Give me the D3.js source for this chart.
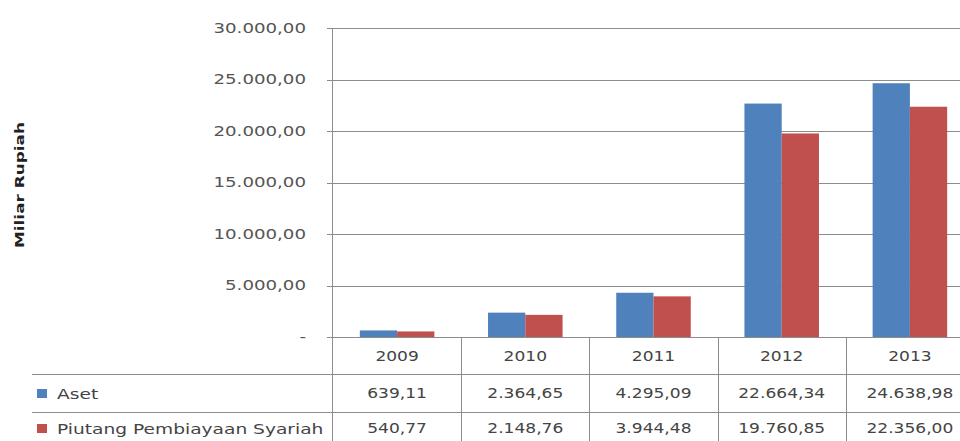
<!DOCTYPE html>
<html>
<head>
<meta charset="utf-8">
<script src="https://cdn.jsdelivr.net/npm/d3@7"></script>
<style>
  body { margin: 0; background: #fff; }
  svg { display: block; font-family: "DejaVu Sans", sans-serif; }
</style>
</head>
<body>
<svg class="chart" width="960" height="441"></svg>
<script>
const width = 960;
const height = 441;

const years = ['2009', '2010', '2011', '2012', '2013'];
const seriesNames = ['Aset', 'Piutang Pembiayaan Syariah'];
const aset = [639.11, 2364.65, 4295.09, 22664.34, 24638.98];
const piutang = [540.77, 2148.76, 3944.48, 19760.85, 22356.00];
const yTicks = [0, 5000, 10000, 15000, 20000, 25000, 30000];

const colors = ['#4f81bd', '#c0504d'];
const stretch = 1.22; // the source text is drawn wide

const locale = d3.formatLocale({ decimal: ',', thousands: '.', grouping: [3], currency: ['', ''] });
const fmt = locale.format(',.2f');
function tickText(d) { return d === 0 ? '-' : fmt(d); }

const plot = { left: 332, top: 28, bottom: 337, right: 974 };
const rowLines = [374, 412, 450];
const tableLeft = 32;

const x = d3.scaleBand()
            .domain(years)
            .range([plot.left + 1, plot.right])
            .paddingInner(0)
            .paddingOuter(0);

const inner = d3.scaleBand()
                .domain([0, 1])
                .range([0, x.bandwidth()])
                .paddingInner(0)
                .paddingOuter(0.72);

const y = d3.scaleLinear()
            .domain([0, 30000])
            .range([plot.bottom, plot.top]);

const svg = d3.select('.chart');

// place a text with horizontal stretch
function wideText(g, tx, ty, str, anchor, k) {
    return g.append('text')
            .attr('transform', 'translate(' + tx + ',' + ty + ') scale(' + (k || stretch) + ',1)')
            .attr('text-anchor', anchor)
            .attr('dominant-baseline', 'central')
            .text(str);
}

// gridlines
svg.append('g')
   .selectAll('line')
   .data(yTicks)
   .join('line')
   .attr('x1', plot.left - 5)
   .attr('x2', plot.right)
   .attr('y1', function(d) { return Math.round(y(d)) + 0.5; })
   .attr('y2', function(d) { return Math.round(y(d)) + 0.5; })
   .attr('stroke', '#8c8c8c')
   .attr('stroke-width', 1);

// y tick labels
const yLabels = svg.append('g')
                   .attr('font-size', 14)
                   .attr('fill', '#555');
yTicks.forEach(function(d) {
    wideText(yLabels, 306, y(d), tickText(d), 'end', 1.3);
});

// axis title
svg.append('text')
   .attr('transform', 'translate(20,185) rotate(-90) scale(1.3,1)')
   .attr('text-anchor', 'middle')
   .attr('dominant-baseline', 'central')
   .attr('font-size', 13)
   .attr('font-weight', 'bold')
   .attr('fill', '#222')
   .text('Miliar Rupiah');

// bars
const seriesValues = [aset, piutang];
svg.append('g')
   .selectAll('g')
   .data(seriesValues)
   .join('g')
   .attr('fill', function(d, i) { return colors[i]; })
   .each(function(vals, s) {
       d3.select(this)
         .selectAll('rect')
         .data(vals)
         .join('rect')
         .attr('x', function(v, i) { return x(years[i]) + inner(s); })
         .attr('width', inner.bandwidth())
         .attr('y', function(v) { return y(v); })
         .attr('height', function(v) { return y(0) - y(v); });
   });

// table lines
const table = svg.append('g')
                 .attr('stroke', '#8c8c8c')
                 .attr('stroke-width', 1);

table.selectAll('.row')
     .data(rowLines)
     .join('line')
     .attr('class', 'row')
     .attr('x1', tableLeft)
     .attr('x2', plot.right)
     .attr('y1', function(d) { return d + 0.5; })
     .attr('y2', function(d) { return d + 0.5; });

table.append('line')
     .attr('x1', plot.left + 0.5)
     .attr('x2', plot.left + 0.5)
     .attr('y1', plot.top)
     .attr('y2', height);

table.selectAll('.col')
     .data(years)
     .join('line')
     .attr('class', 'col')
     .attr('x1', function(d) { return Math.round(x(d) + x.bandwidth()) + 0.5; })
     .attr('x2', function(d) { return Math.round(x(d) + x.bandwidth()) + 0.5; })
     .attr('y1', plot.bottom)
     .attr('y2', height);

// table text
const cells = svg.append('g')
                 .attr('font-size', 14)
                 .attr('fill', '#444');

years.forEach(function(yr, i) {
    const cx = x(yr) + x.bandwidth() / 2;
    wideText(cells, cx, (plot.bottom + rowLines[0]) / 2 + 1, yr, 'middle');
    wideText(cells, cx, (rowLines[0] + rowLines[1]) / 2 + 1, fmt(aset[i]), 'middle');
    wideText(cells, cx, (rowLines[1] + rowLines[2]) / 2 - 2, fmt(piutang[i]), 'middle');
});

// legend keys in the table
const rowMid = [(rowLines[0] + rowLines[1]) / 2, (rowLines[1] + rowLines[2]) / 2 - 3];
seriesNames.forEach(function(name, i) {
    svg.append('rect')
       .attr('x', 37)
       .attr('y', rowMid[i] - 4)
       .attr('width', 10)
       .attr('height', 9)
       .attr('fill', colors[i]);
    wideText(cells, 57, rowMid[i] + 1, name, 'start', 1.33);
});
</script>
</body>
</html>
